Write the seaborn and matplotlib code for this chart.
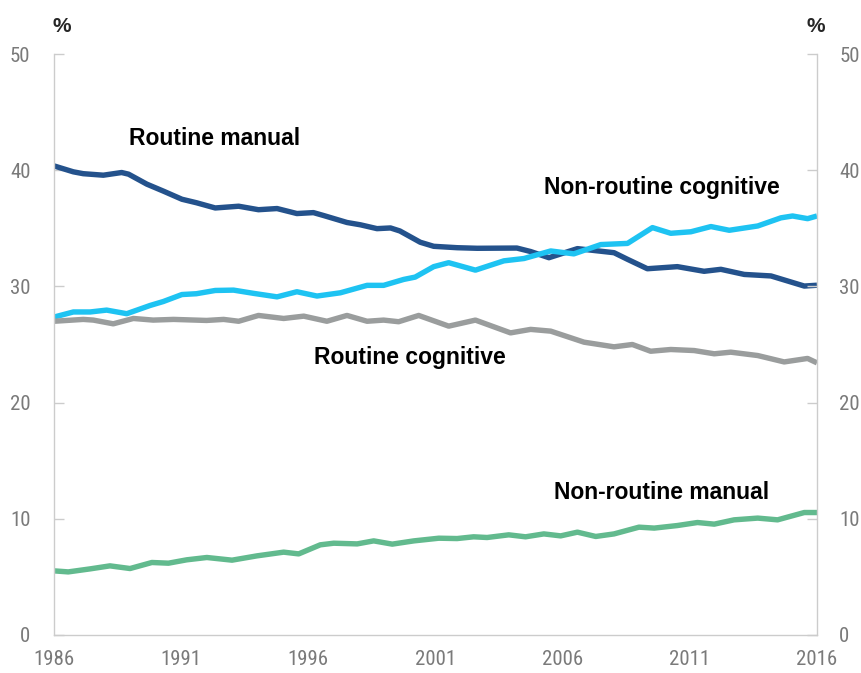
import matplotlib
matplotlib.use("Agg")
import matplotlib.pyplot as plt
from matplotlib import font_manager
import seaborn as sns
import pandas as pd

# ---- data ----
rm_years = [1986.0, 1986.76, 1987.15, 1987.94, 1988.66, 1988.93, 1989.65, 1990.3, 1991.03, 1991.6,
            1992.34, 1993.26, 1994.04, 1994.77, 1995.55, 1996.2, 1996.6, 1997.52, 1998.05, 1998.7,
            1999.23, 1999.6, 2000.4, 2000.93, 2001.85, 2002.64, 2004.2, 2004.74, 2005.46, 2006.58,
            2008.02, 2008.55, 2009.33, 2010.51, 2011.56, 2012.22, 2013.14, 2014.19, 2015.5, 2016.0]
rm_values = [40.37, 39.86, 39.7, 39.57, 39.8, 39.66, 38.8, 38.2, 37.5, 37.2,
             36.75, 36.9, 36.6, 36.7, 36.27, 36.35, 36.1, 35.5, 35.3, 34.97,
             35.03, 34.77, 33.8, 33.45, 33.33, 33.28, 33.3, 33.0, 32.47, 33.25,
             32.9, 32.33, 31.52, 31.7, 31.3, 31.47, 31.03, 30.9, 30.03, 30.1]

nrc_years = [1986.0, 1986.76, 1987.42, 1988.07, 1988.86, 1989.78, 1990.3, 1991.03, 1991.6, 1992.34,
             1993.06, 1993.85, 1994.77, 1995.55, 1996.34, 1997.26, 1998.31, 1998.96, 1999.75, 2000.2,
             2000.93, 2001.52, 2002.57, 2003.69, 2004.48, 2005.53, 2006.44, 2007.5, 2008.55, 2009.53,
             2010.25, 2011.04, 2011.83, 2012.55, 2013.67, 2014.58, 2015.04, 2015.63, 2016.0]
nrc_values = [27.36, 27.8, 27.8, 27.96, 27.65, 28.36, 28.7, 29.3, 29.37, 29.65,
              29.68, 29.4, 29.1, 29.54, 29.17, 29.45, 30.09, 30.09, 30.6, 30.8,
              31.7, 32.04, 31.4, 32.2, 32.4, 33.05, 32.8, 33.6, 33.7, 35.06,
              34.57, 34.7, 35.15, 34.83, 35.2, 35.9, 36.06, 35.83, 36.06]

rc_years = [1986.0, 1987.15, 1987.55, 1988.33, 1989.12, 1989.9, 1990.7, 1992.0, 1992.67, 1993.26,
            1994.04, 1995.03, 1995.82, 1996.73, 1997.52, 1998.31, 1998.96, 1999.55, 2000.34, 2001.52,
            2002.57, 2003.95, 2004.74, 2005.53, 2006.84, 2008.02, 2008.74, 2009.46, 2010.25, 2011.17,
            2011.96, 2012.61, 2013.67, 2014.71, 2015.63, 2016.0]
rc_values = [27.0, 27.16, 27.1, 26.78, 27.24, 27.1, 27.16, 27.07, 27.16, 27.0,
             27.5, 27.24, 27.44, 27.0, 27.5, 27.0, 27.1, 26.96, 27.5, 26.58,
             27.1, 26.0, 26.3, 26.15, 25.2, 24.8, 25.0, 24.42, 24.57, 24.48,
             24.2, 24.34, 24.05, 23.5, 23.8, 23.42]

nrm_years = [1986.0, 1986.56, 1987.42, 1988.2, 1988.99, 1989.85, 1990.5, 1991.22, 1992.01, 1993.0,
             1993.98, 1995.03, 1995.62, 1996.47, 1997.0, 1997.92, 1998.57, 1999.3, 2000.15, 2001.13,
             2001.85, 2002.5, 2003.03, 2003.88, 2004.54, 2005.26, 2005.92, 2006.58, 2007.3, 2008.02,
             2009.0, 2009.6, 2010.51, 2011.3, 2011.96, 2012.74, 2013.67, 2014.45, 2015.5, 2016.0]
nrm_values = [5.52, 5.43, 5.69, 5.95, 5.72, 6.24, 6.18, 6.47, 6.67, 6.44,
              6.81, 7.13, 6.98, 7.76, 7.9, 7.84, 8.1, 7.82, 8.1, 8.33,
              8.3, 8.45, 8.39, 8.62, 8.45, 8.7, 8.53, 8.85, 8.48, 8.7,
              9.28, 9.2, 9.42, 9.68, 9.54, 9.91, 10.06, 9.91, 10.54, 10.54]

series_names = ["Routine manual", "Non-routine cognitive", "Routine cognitive", "Non-routine manual"]
series_colors = ["#24528c", "#1ec3f2", "#9a9d9d", "#62ba8e"]
x_ticks = [1986, 1991, 1996, 2001, 2006, 2011, 2016]
y_ticks = [0, 10, 20, 30, 40, 50]

# label positions (data coords)
label_pos = {
    "Routine manual": (1992.3, 42.7),
    "Non-routine cognitive": (2009.9, 38.5),
    "Routine cognitive": (2000.0, 23.9),
    "Non-routine manual": (2009.9, 12.3),
}

# ---- build long-form table ----
frames = []
for name, xs, ys in zip(series_names,
                        [rm_years, nrc_years, rc_years, nrm_years],
                        [rm_values, nrc_values, rc_values, nrm_values]):
    frames.append(pd.DataFrame({"year": xs, "value": ys, "series": name}))
df = pd.concat(frames, ignore_index=True)

sns.set_theme(style="white")
plt.rcParams["font.family"] = ["Liberation Sans", "DejaVu Sans"]

# condensed font for tick labels if available
installed = {f.name for f in font_manager.fontManager.ttflist}
narrow = None
for cand in ["Liberation Sans Narrow", "Roboto Condensed", "DejaVu Sans Condensed"]:
    if cand in installed:
        narrow = cand
        break
if narrow:
    tick_family = [narrow, "Liberation Sans"]
    tick_size = 15
else:
    tick_family = ["Liberation Sans"]
    tick_size = 13.5

fig = plt.figure(figsize=(8.62, 6.73), dpi=100)
ax = fig.add_axes([54 / 862, 1 - 635 / 673, (817 - 54) / 862, (635 - 54) / 673])

sns.lineplot(data=df, x="year", y="value", hue="series", hue_order=series_names,
             palette=dict(zip(series_names, series_colors)), linewidth=3.9,
             estimator=None, legend=False, ax=ax,
             solid_joinstyle="round", solid_capstyle="butt")

ax.set_xlim(1986, 2016)
ax.set_ylim(0, 50)
ax.set_xticks(x_ticks)
ax.set_xticklabels([str(t) for t in x_ticks])
ax.set_yticks(y_ticks)
ax.set_xlabel("")
ax.set_ylabel("")

spine_col = "#cccccc"
for s in ["left", "bottom"]:
    ax.spines[s].set_color(spine_col)
    ax.spines[s].set_linewidth(1.0)
ax.spines["top"].set_visible(False)
ax.spines["right"].set_visible(False)

ax.tick_params(axis="both", direction="in", length=7, width=1, color=spine_col,
               labelcolor="#7a7a7a", labelsize=tick_size)
ax.tick_params(axis="y", pad=17)
ax.tick_params(axis="x", pad=11)

ax2 = ax.twinx()
ax2.set_ylim(0, 50)
ax2.set_yticks(y_ticks)
for s in ["left", "bottom", "top"]:
    ax2.spines[s].set_visible(False)
ax2.spines["right"].set_color(spine_col)
ax2.spines["right"].set_linewidth(1.0)
ax2.tick_params(axis="y", direction="in", length=7, width=1, color=spine_col,
                labelcolor="#7a7a7a", labelsize=tick_size, pad=16)
ax2.grid(False)
ax.grid(False)

for lab in ax.get_xticklabels() + ax.get_yticklabels() + ax2.get_yticklabels():
    lab.set_family(tick_family)

for name in series_names:
    x, y = label_pos[name]
    ax.text(x, y, name, ha="center", va="center", fontsize=16.5, fontweight="bold", color="black")

fig.text(62 / 862, 1 - 26 / 673, "%", ha="center", va="center", fontsize=15, fontweight="bold")
fig.text(816 / 862, 1 - 26 / 673, "%", ha="center", va="center", fontsize=15, fontweight="bold")

fig.savefig("out.png", dpi=100)
